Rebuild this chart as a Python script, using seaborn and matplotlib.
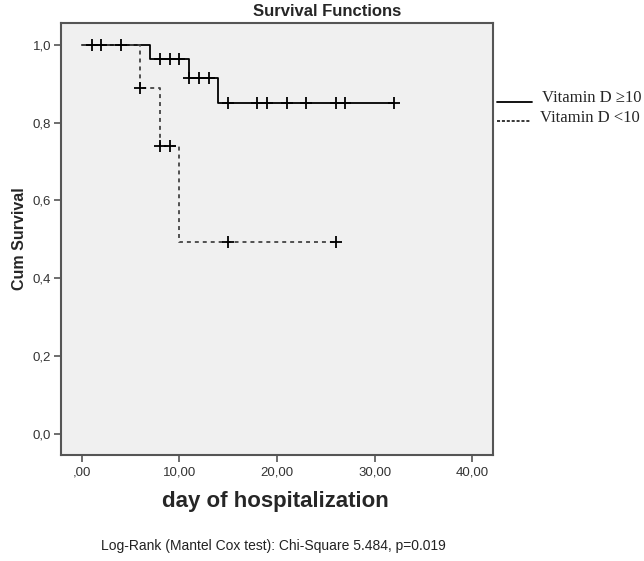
import matplotlib
matplotlib.use("Agg")
import matplotlib.pyplot as plt
import seaborn as sns
import pandas as pd
from matplotlib.lines import Line2D

# ---- data ----
legend_labels = ["Vitamin D \u226510", "Vitamin D <10"]

# step curves (time, cumulative survival)
hi_times = [0, 7, 11, 14, 32]
hi_surv = [1.0, 0.963, 0.915, 0.850, 0.850]
lo_times = [0, 6, 8, 10, 26]
lo_surv = [1.0, 0.889, 0.741, 0.494, 0.494]

# censored observations (time, survival at that time)
hi_cens_t = [1, 2, 4, 8, 9, 10, 11, 12, 13, 15, 18, 19, 21, 23, 26, 27, 32]
hi_cens_s = [1.0, 1.0, 1.0, 0.963, 0.963, 0.963, 0.915, 0.915, 0.915,
             0.850, 0.850, 0.850, 0.850, 0.850, 0.850, 0.850, 0.850]
lo_cens_t = [6, 8, 9, 15, 26]
lo_cens_s = [0.889, 0.741, 0.741, 0.494, 0.494]

x_ticks = [0, 10, 20, 30, 40]
x_ticklabels = [",00", "10,00", "20,00", "30,00", "40,00"]
y_ticks = [0.0, 0.2, 0.4, 0.6, 0.8, 1.0]
y_ticklabels = ["0,0", "0,2", "0,4", "0,6", "0,8", "1,0"]

title = "Survival Functions"
xlabel = "day of hospitalization"
ylabel = "Cum Survival"
footer = "Log-Rank (Mantel Cox test): Chi-Square 5.484, p=0.019"

# ---- styling ----
sns.set_style("white", {"axes.facecolor": "#f0f0f0", "axes.edgecolor": "#555555",
                        "xtick.bottom": True, "ytick.left": True})
plt.rcParams["font.family"] = ["Liberation Sans", "DejaVu Sans"]
narrow = ["Liberation Sans Narrow", "Liberation Sans", "DejaVu Sans"]

fig = plt.figure(figsize=(6.44, 5.61), dpi=100)
ax = fig.add_axes([61 / 644, 1 - 455 / 561, (493 - 61) / 644, (455 - 23) / 561])

df_hi = pd.DataFrame({"t": hi_times, "s": hi_surv})
df_lo = pd.DataFrame({"t": lo_times, "s": lo_surv})

sns.lineplot(data=df_hi, x="t", y="s", ax=ax, drawstyle="steps-post",
             color="black", linewidth=1.3, estimator=None)
sns.lineplot(data=df_lo, x="t", y="s", ax=ax, drawstyle="steps-post",
             color="#444444", linewidth=1.3, estimator=None,
             linestyle=(0, (2.2, 2.2)))

sns.scatterplot(x=hi_cens_t, y=hi_cens_s, ax=ax, marker="+", s=70,
                color="black", linewidth=1.3, zorder=5)
sns.scatterplot(x=lo_cens_t, y=lo_cens_s, ax=ax, marker="+", s=70,
                color="black", linewidth=1.3, zorder=5)

ax.set_xlim(-2.15, 42.15)
ax.set_ylim(-0.054, 1.056)
ax.set_xticks(x_ticks)
ax.set_xticklabels(x_ticklabels, family=narrow)
ax.set_yticks(y_ticks)
ax.set_yticklabels(y_ticklabels, family=narrow)
ax.tick_params(axis="both", direction="out", length=5, width=1.2,
               color="#555555", labelsize=9.5, labelcolor="#333333", pad=2,
               bottom=True, left=True)
ax.tick_params(axis="x", pad=3)
for sp in ax.spines.values():
    sp.set_linewidth(1.5)
    sp.set_color("#555555")

ax.set_xlabel("")
ax.set_ylabel(ylabel, fontsize=11.5, fontweight="bold", labelpad=4)

fig.text(327 / 644, 1 - 11 / 561, title, ha="center", va="center",
         fontsize=12, fontweight="bold")
fig.text(275 / 644, 1 - 502 / 561, xlabel, ha="center", va="center",
         fontsize=16, fontweight="bold")
fig.text(273 / 644, 1 - 546 / 561, footer, ha="center", va="center",
         fontsize=10, color="#222222")

# legend (outside, right)
serif = ["Liberation Serif", "DejaVu Serif"]
fig.add_artist(Line2D([497 / 644, 532 / 644], [1 - 102 / 561, 1 - 102 / 561],
                      color="black", linewidth=1.3))
fig.add_artist(Line2D([497 / 644, 530 / 644], [1 - 121 / 561, 1 - 121 / 561],
                      color="black", linewidth=1.1, linestyle=(0, (2, 1.2))))
fig.text(542 / 644, 1 - 98 / 561, legend_labels[0], ha="left", va="center",
         fontsize=12, family=serif)
fig.text(540 / 644, 1 - 118 / 561, legend_labels[1], ha="left", va="center",
         fontsize=12, family=serif)

fig.savefig("out.png", dpi=100, facecolor="white")
